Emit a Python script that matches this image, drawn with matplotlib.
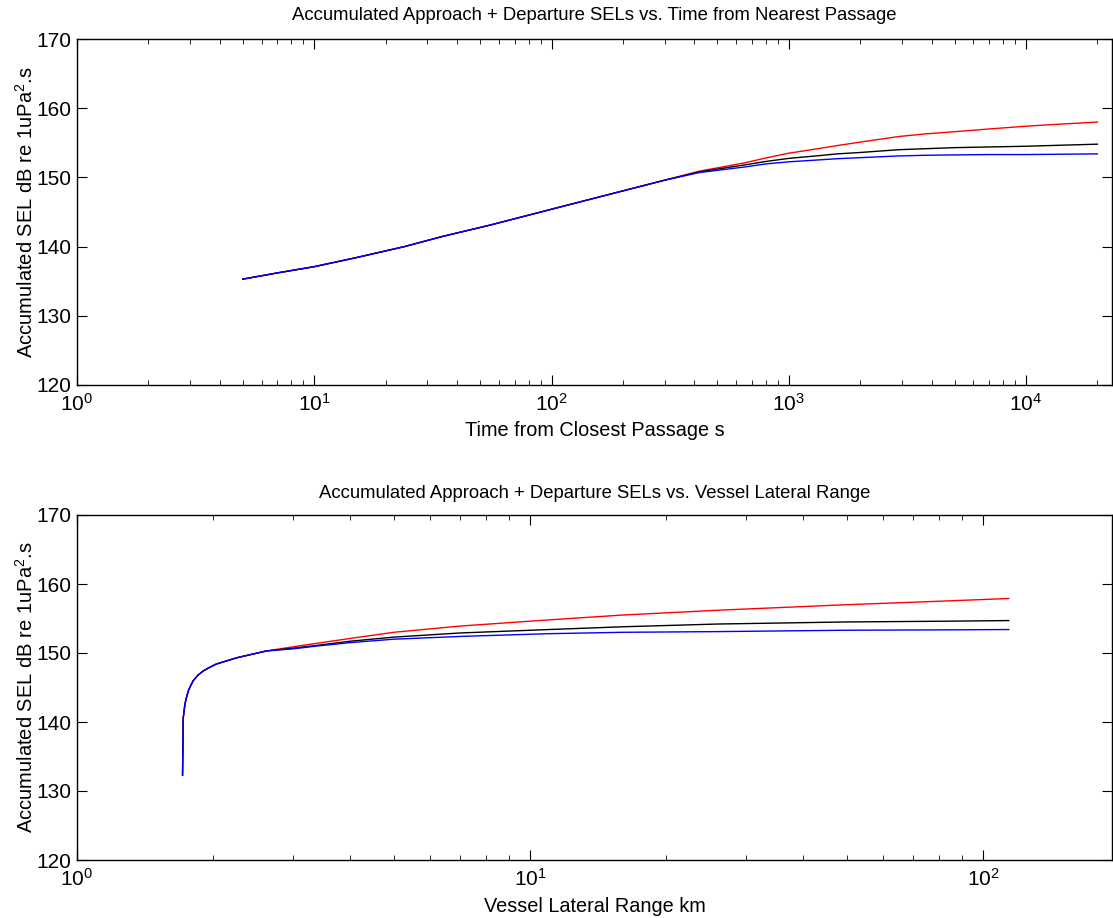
import matplotlib
matplotlib.use("Agg")
import matplotlib.pyplot as plt
from matplotlib.ticker import LogLocator, NullFormatter, MultipleLocator

plt.rcParams['font.family'] = ['Liberation Sans', 'DejaVu Sans']
plt.rcParams['mathtext.fontset'] = 'custom'
plt.rcParams['mathtext.rm'] = 'Liberation Sans'
plt.rcParams['mathtext.it'] = 'Liberation Sans'

# top panel: time from closest passage (s)
t_shared = [5, 7, 10, 15, 24, 35, 55, 100, 160, 300]
sel_t_shared = [135.3, 136.2, 137.1, 138.4, 140.0, 141.5, 143.1, 145.4, 147.2, 149.6]
t_split = [420, 650, 800, 1000, 1300, 1600, 2000, 2900, 3800, 5000, 7000, 10000, 14000, 20000]
sel_t_red = [150.9, 152.1, 152.8, 153.5, 154.1, 154.6, 155.1, 155.9, 156.3, 156.6, 157.0, 157.4, 157.7, 158.0]
sel_t_black = [150.8, 151.8, 152.3, 152.75, 153.1, 153.4, 153.6, 154.0, 154.15, 154.3, 154.4, 154.5, 154.65, 154.8]
sel_t_blue = [150.7, 151.5, 151.95, 152.25, 152.5, 152.7, 152.85, 153.1, 153.2, 153.25, 153.3, 153.3, 153.35, 153.4]

# bottom panel: vessel lateral range (km)
r_shared = [1.71, 1.716, 1.731, 1.745, 1.761, 1.78, 1.806, 1.85, 1.90, 1.96, 2.03, 2.25, 2.62]
sel_r_shared = [132.3, 140.6, 142.6, 143.6, 144.5, 145.2, 146.0, 146.8, 147.4, 147.9, 148.4, 149.3, 150.3]
r_split = [3.0, 3.38, 4.0, 5.0, 7.0, 11, 16, 26, 50, 80, 114]
sel_r_red = [150.9, 151.4, 152.1, 153.0, 153.9, 154.8, 155.5, 156.2, 157.0, 157.5, 157.9]
sel_r_black = [150.7, 151.1, 151.7, 152.3, 152.9, 153.4, 153.8, 154.2, 154.5, 154.6, 154.7]
sel_r_blue = [150.6, 151.0, 151.5, 152.0, 152.4, 152.8, 153.0, 153.1, 153.3, 153.35, 153.4]

W, H = 1113, 918
fig = plt.figure(figsize=(W / 100, H / 100), dpi=100)

def pos(x0, y0, x1, y1):
    return [x0 / W, 1 - y1 / H, (x1 - x0) / W, (y1 - y0) / H]

ax1 = fig.add_axes(pos(77, 39, 1112, 385))
ax2 = fig.add_axes(pos(77, 515, 1112, 860))

def draw(ax, xs, ys, xsp, red, black, blue):
    for col, ysp in [('r', red), ('k', black), ('b', blue)]:
        ax.plot(xs + xsp, ys + ysp, color=col, lw=1.0)

draw(ax1, t_shared, sel_t_shared, t_split, sel_t_red, sel_t_black, sel_t_blue)
draw(ax2, r_shared, sel_r_shared, r_split, sel_r_red, sel_r_black, sel_r_blue)

ax1.set_xlim(1, 10 ** ((1112 - 77) / 237.25))
ax2.set_xlim(1, 10 ** ((1112 - 77) / 453.0))

for ax in (ax1, ax2):
    ax.set_xscale('log')
    ax.set_ylim(120, 170)
    ax.yaxis.set_major_locator(MultipleLocator(10))
    ax.xaxis.set_major_locator(LogLocator(base=10, numticks=10))
    ax.xaxis.set_minor_locator(LogLocator(base=10, subs=range(2, 10), numticks=20))
    ax.xaxis.set_minor_formatter(NullFormatter())
    ax.tick_params(which='both', direction='in', top=True, right=True, labelsize=15)
    ax.tick_params(which='major', length=7, width=0.8)
    ax.tick_params(which='minor', length=3.5, width=0.6)
    ax.tick_params(axis='y', pad=4)
    ax.tick_params(axis='x', pad=6)
    for s in ax.spines.values():
        s.set_linewidth(1.0)
    ax.set_ylabel(r'Accumulated SEL dB re 1uPa$^2$.s', fontsize=14.5, labelpad=0)

ax1.set_title('Accumulated Approach + Departure SELs vs. Time from Nearest Passage', fontsize=13.3, pad=14)
ax1.set_xlabel('Time from Closest Passage s', fontsize=14.3, labelpad=4)
ax2.set_title('Accumulated Approach + Departure SELs vs. Vessel Lateral Range', fontsize=13.3, pad=12)
ax2.set_xlabel('Vessel Lateral Range km', fontsize=14.3, labelpad=5)

fig.savefig('out.png', dpi=100)
